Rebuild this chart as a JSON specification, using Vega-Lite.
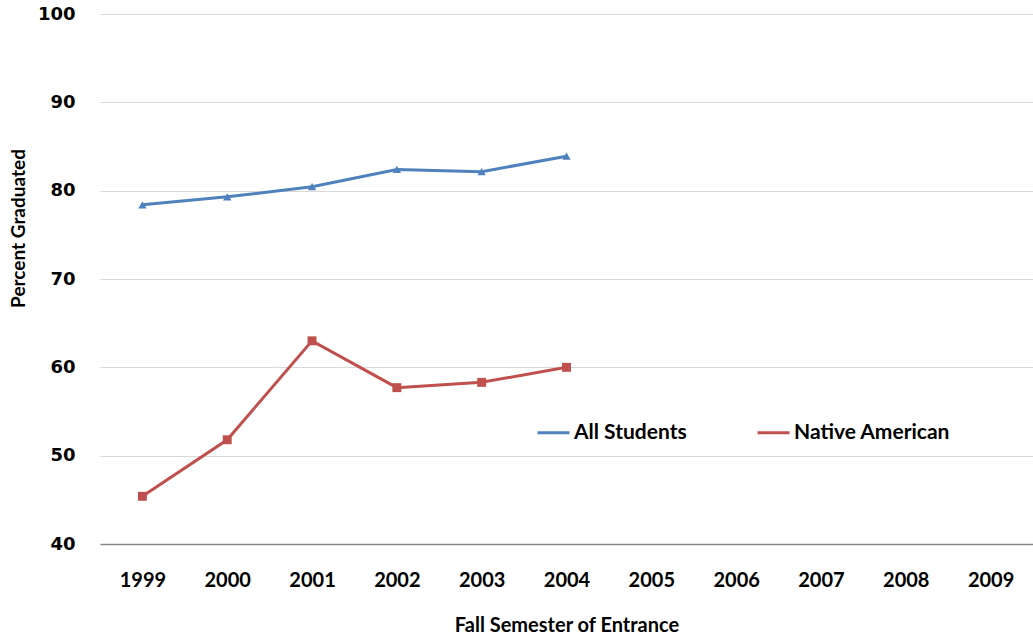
{
  "$schema": "https://vega.github.io/schema/vega-lite/v6.json",
  "width": 933,
  "height": 530,
  "autosize": {"type": "none"},
  "padding": {"left": 100, "top": 14, "right": 0, "bottom": 95},
  "background": "white",
  "config": {
    "view": {"stroke": null},
    "axis": {"labelFont": "Lato", "titleFont": "Lato", "labelColor": "#000", "titleColor": "#000"}
  },
  "data": {
    "values": [
      {"year": "1999", "series": "All Students", "pct": 78.4},
      {"year": "2000", "series": "All Students", "pct": 79.3},
      {"year": "2001", "series": "All Students", "pct": 80.45},
      {"year": "2002", "series": "All Students", "pct": 82.4},
      {"year": "2003", "series": "All Students", "pct": 82.15},
      {"year": "2004", "series": "All Students", "pct": 83.9},
      {"year": "1999", "series": "Native American", "pct": 45.4},
      {"year": "2000", "series": "Native American", "pct": 51.8},
      {"year": "2001", "series": "Native American", "pct": 63.0},
      {"year": "2002", "series": "Native American", "pct": 57.7},
      {"year": "2003", "series": "Native American", "pct": 58.3},
      {"year": "2004", "series": "Native American", "pct": 60.0}
    ]
  },
  "encoding": {
    "x": {
      "field": "year", "type": "ordinal",
      "scale": {"type": "point", "padding": 0.5, "domain": ["1999","2000","2001","2002","2003","2004","2005","2006","2007","2008","2009"]},
      "axis": {
        "title": "Fall Semester of Entrance",
        "labelAngle": 0,
        "labelFontSize": 20, "labelFontWeight": "bold",
        "labelPadding": 26,
        "ticks": false,
        "domainColor": "#868686", "domainWidth": 1.5,
        "titleFontSize": 20, "titleFontWeight": "bold", "titlePadding": 25,
        "grid": false
      }
    },
    "y": {
      "field": "pct", "type": "quantitative",
      "scale": {"domain": [40, 100], "nice": false, "zero": false},
      "axis": {
        "title": "Percent Graduated",
        "values": [40, 50, 60, 70, 80, 90, 100],
        "labelFont": "DejaVu Sans", "labelFontSize": 18, "labelFontWeight": "bold",
        "labelPadding": 25,
        "ticks": false, "domain": false,
        "grid": true, "gridColor": "#D9D9D9", "gridWidth": 1,
        "titleFontSize": 19, "titleFontWeight": "bold",
        "titleX": -82, "titleY": 214, "titleBaseline": "middle", "titleAngle": -90
      }
    },
    "color": {
      "field": "series", "type": "nominal",
      "scale": {"domain": ["All Students", "Native American"], "range": ["#4F81BD", "#C0504D"]},
      "legend": {
        "title": null, "orient": "none", "direction": "horizontal",
        "legendX": 436, "legendY": 401,
        "symbolType": "stroke", "symbolStrokeWidth": 3, "symbolSize": 1024,
        "labelFont": "Lato", "labelFontSize": 21, "labelFontWeight": "bold", "labelColor": "#000",
        "labelOffset": 3, "columnPadding": 64, "labelLimit": 300
      }
    }
  },
  "layer": [
    {"mark": {"type": "line", "strokeWidth": 3}},
    {
      "transform": [{"filter": "datum.series === 'All Students'"}],
      "mark": {"type": "point", "filled": true, "opacity": 1, "shape": "triangle-up", "size": 70}
    },
    {
      "transform": [{"filter": "datum.series === 'Native American'"}],
      "mark": {"type": "point", "filled": true, "opacity": 1, "shape": "square", "size": 80}
    }
  ]
}
